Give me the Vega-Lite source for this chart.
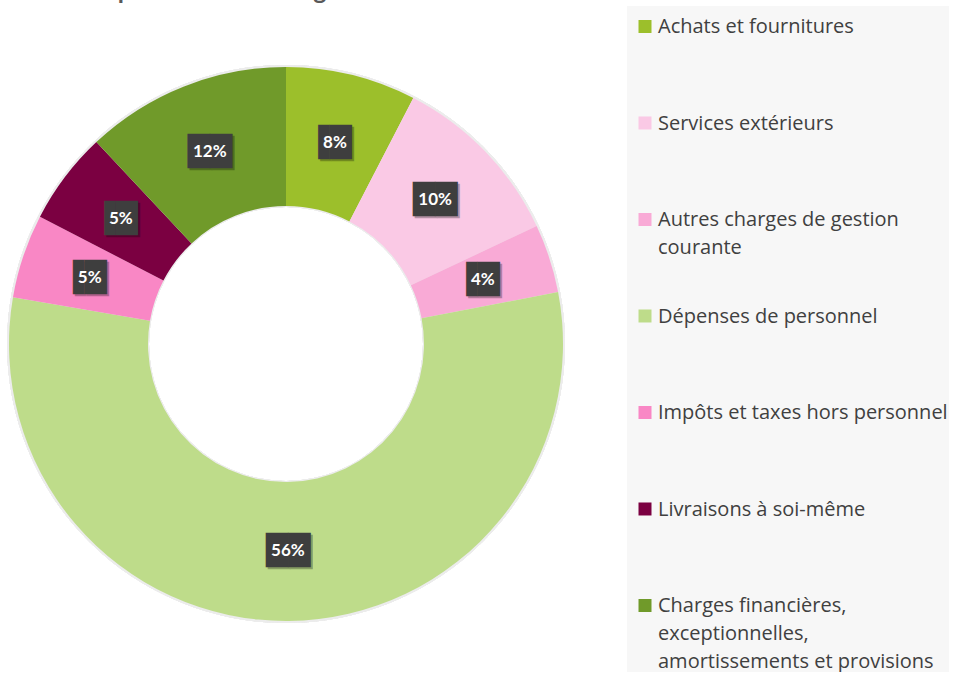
{
  "$schema": "https://vega.github.io/schema/vega-lite/v6.json",
  "width": 572,
  "height": 676,
  "autosize": {"type": "pad"},
  "padding": {"top": -21, "left": 0, "right": 2, "bottom": -10},
  "background": "white",
  "title": {
    "text": "Répartition des charges 2020",
    "font": "Lato",
    "fontSize": 25,
    "fontWeight": "bold",
    "color": "#595959",
    "anchor": "middle",
    "dx": -34,
    "offset": 2
  },
  "data": {
    "values": [
      {"categorie": "Achats et fournitures", "part": 7.6},
      {"categorie": "Services extérieurs", "part": 10.4},
      {"categorie": "Autres charges de gestion courante", "part": 4.0},
      {"categorie": "Dépenses de personnel", "part": 55.7},
      {"categorie": "Impôts et taxes hors personnel", "part": 4.9},
      {"categorie": "Livraisons à soi-même", "part": 5.4},
      {"categorie": "Charges financières, exceptionnelles, amortissements et provisions", "part": 12.0}
    ]
  },
  "transform": [
    {"window": [{"op": "row_number", "as": "rang"}]},
    {"stack": "part", "groupby": [], "sort": [{"field": "rang", "order": "ascending"}], "as": ["debut", "fin"]},
    {"calculate": "(datum.debut + datum.fin) / 2", "as": "milieu"},
    {"calculate": "format(datum.part / 100, '.0%')", "as": "etiquette"},
    {"calculate": "length(datum.etiquette)", "as": "nb"}
  ],
  "layer": [
    {
      "mark": {"type": "arc", "theta": 0, "theta2": 6.2832, "innerRadius": 137, "outerRadius": 279, "color": "#ececec"},
      "encoding": {}
    },
    {
      "mark": {"type": "arc", "innerRadius": 138, "outerRadius": 277},
      "encoding": {
        "theta": {"field": "debut", "type": "quantitative", "scale": {"domain": [0, 100]}},
        "theta2": {"field": "fin"},
        "color": {
          "field": "categorie",
          "type": "nominal",
          "scale": {
            "domain": [
              "Achats et fournitures",
              "Services extérieurs",
              "Autres charges de gestion courante",
              "Dépenses de personnel",
              "Impôts et taxes hors personnel",
              "Livraisons à soi-même",
              "Charges financières, exceptionnelles, amortissements et provisions"
            ],
            "range": ["#9CBF2B", "#FAC9E5", "#F9AAD6", "#BEDC8A", "#F987C5", "#7B0041", "#709A2A"]
          },
          "legend": {
            "title": null,
            "orient": "right",
            "offset": 55,
            "padding": 1,
            "fillColor": "#f7f7f7",
            "symbolType": "M0.077,0.46H2.077V2.46H0.077Z",
            "symbolSize": 169,
            "symbolStrokeWidth": 0,
            "labelFont": "Open Sans",
            "labelFontSize": 20,
            "labelColor": "#404040",
            "labelLimit": 400,
            "labelOffset": 10,
            "labelBaseline": "top",
            "rowPadding": 10.5,
            "labelExpr": "datum.label == 'Autres charges de gestion courante' ? ['Autres charges de gestion', 'courante', ''] : datum.label == 'Charges financières, exceptionnelles, amortissements et provisions' ? ['Charges financières,', 'exceptionnelles,', 'amortissements et provisions'] : [datum.label, '', '']"
          }
        }
      }
    },
    {
      "transform": [{"filter": "datum.nb == 2"}],
      "mark": {"type": "text", "radius": 207, "font": "DejaVu Sans", "fontSize": 29, "color": "#000000", "opacity": 0.28, "dx": -3.6, "dy": 2},
      "encoding": {
        "theta": {"field": "milieu", "type": "quantitative"},
        "text": {"value": "▐█"}
      }
    },
    {
      "transform": [{"filter": "datum.nb == 3"}],
      "mark": {"type": "text", "radius": 207, "font": "DejaVu Sans", "fontSize": 29, "color": "#000000", "opacity": 0.28, "dx": 2, "dy": 2},
      "encoding": {
        "theta": {"field": "milieu", "type": "quantitative"},
        "text": {"value": "██"}
      }
    },
    {
      "transform": [{"filter": "datum.nb == 2"}],
      "mark": {"type": "text", "radius": 207, "font": "DejaVu Sans", "fontSize": 29, "color": "#3e3e3e", "dx": -5.6},
      "encoding": {
        "theta": {"field": "milieu", "type": "quantitative"},
        "text": {"value": "▐█"}
      }
    },
    {
      "transform": [{"filter": "datum.nb == 3"}],
      "mark": {"type": "text", "radius": 207, "font": "DejaVu Sans", "fontSize": 29, "color": "#3e3e3e"},
      "encoding": {
        "theta": {"field": "milieu", "type": "quantitative"},
        "text": {"value": "██"}
      }
    },
    {
      "mark": {"type": "text", "radius": 207, "font": "Lato", "fontWeight": "bold", "fontSize": 17, "color": "#ffffff"},
      "encoding": {
        "theta": {"field": "milieu", "type": "quantitative"},
        "text": {"field": "etiquette"}
      }
    }
  ],
  "config": {
    "view": {"stroke": null},
    "style": {"guide-label": {"lineHeight": 28}}
  }
}
